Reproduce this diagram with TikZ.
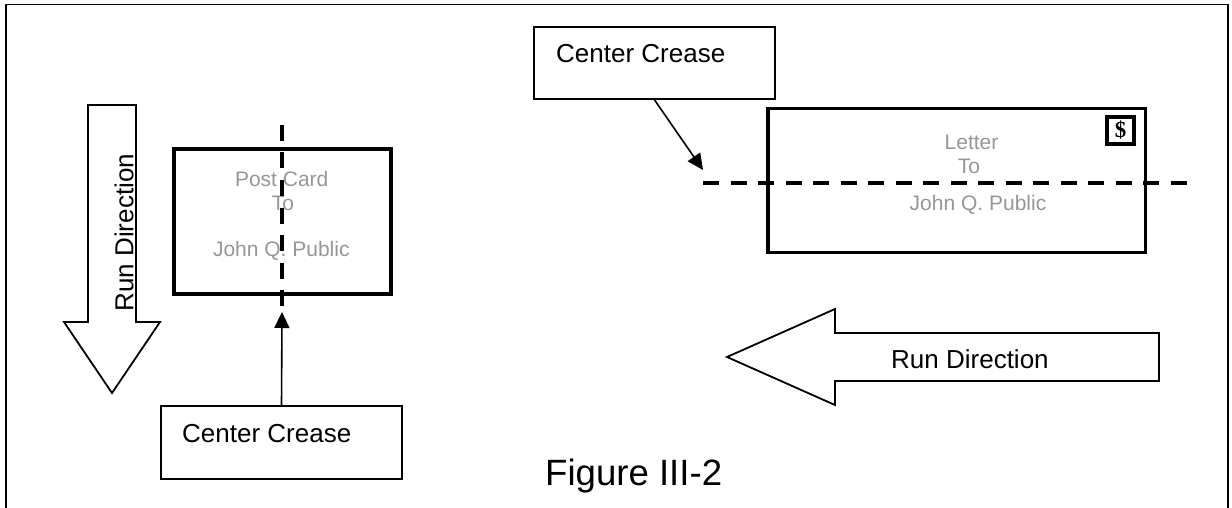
\documentclass[tikz,border=0pt]{standalone}
\usepackage{fontspec}
\setmainfont{Liberation Sans}
\newfontfamily\stampfont{Liberation Serif}
\usetikzlibrary{arrows.meta}
\definecolor{addrgray}{RGB}{150,150,150}
\begin{document}
\begin{tikzpicture}[x=1pt,y=-1pt,
  frameline/.style={line width=1.8pt},
  heavybox/.style={draw, line width=3.8pt, inner sep=0pt},
  labelbox/.style={draw, line width=1.8pt, inner sep=0pt, minimum width=241pt, minimum height=72pt},
  stampbox/.style={draw, line width=3.5pt, inner sep=0pt, minimum size=27pt, font=\stampfont\bfseries\fontsize{23}{25}\selectfont},
  bigarrow/.style={draw, line width=1.8pt, line join=miter},
  crease/.style={line width=4pt, dash pattern=on 16pt off 11.5pt},
  ptr/.style={line width=1.6pt, -{Triangle[width=15pt,length=16pt]}},
  addr/.style={text=addrgray, font=\fontsize{21}{24}\selectfont, anchor=base, inner sep=0pt},
  labtext/.style={font=\fontsize{26}{30}\selectfont, anchor=base west, inner sep=0pt},
  figtext/.style={font=\fontsize{36.6}{42}\selectfont, anchor=base west, inner sep=0pt}
]
\useasboundingbox (0,0) rectangle (1232,508);
% frame
\draw[frameline] (6,510) -- (6,4.5) -- (1228,4.5) -- (1228,510);

% left: post card
\draw[bigarrow] (88,105) -- (136,105) -- (136,322) -- (160,322) -- (112,393) -- (64,322) -- (88,322) -- cycle;
\node[labtext, rotate=90] (rdv) at (133.3,311.7) {Run Direction};

\node[heavybox, minimum width=217pt, minimum height=145pt] (pc) at (282.5,221.5) {};
\node[addr] (pc1) at (281.7,186) {Post Card};
\node[addr] (pc2) at (283,210) {To};
\node[addr] (pc3) at (281.3,256) {John Q. Public};

\coordinate (vtop) at (282,125);
\coordinate (vbot) at (282,312);
\draw[crease] (vtop) -- (vbot);

\node[labelbox, minimum height=73pt] (ccL) at (281.5,442.5) {};
\node[labtext] (ccLt) at (182,442) {Center Crease};
\draw[ptr] (ccL.north) -- (vbot);

% right: letter
\node[labelbox] (ccR) at (654.5,63) {};
\node[labtext] (ccRt) at (556,62.7) {Center Crease};

\node[heavybox, minimum width=377.5pt, minimum height=144pt] (lt) at (956.75,180.5) {};
\node[stampbox] (stamp) at (1120.5,130.5) {\$};
\node[addr] (lt1) at (971.5,149.3) {Letter};
\node[addr] (lt2) at (969,174) {To};
\node[addr] (lt3) at (978,211) {John Q. Public};

\coordinate (hL) at (703,183);
\coordinate (hR) at (1195,183);
\draw[crease] (hL) -- (hR);
\coordinate (tipR) at (703,170);
\draw[ptr] (ccR.south) -- (tipR);

\draw[bigarrow] (1159,333) -- (835,333) -- (835,309) -- (727,357) -- (835,405) -- (835,381) -- (1159,381) -- cycle;
\node[labtext] (rdh) at (891,368) {Run Direction};

\node[figtext] (fig) at (545,485) {Figure III-2};
\end{tikzpicture}
\end{document}
